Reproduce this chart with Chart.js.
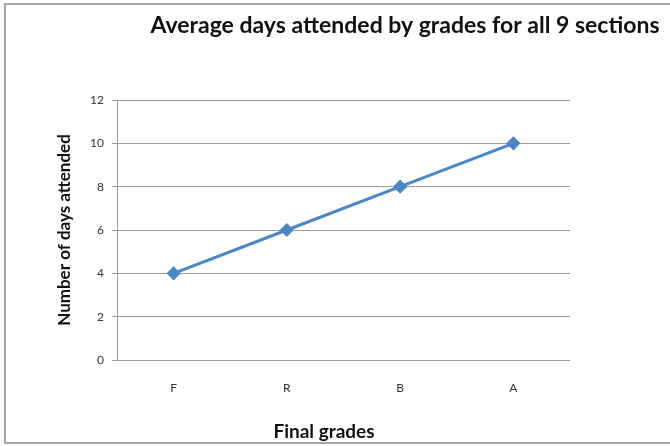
<!DOCTYPE html>
<html>
<head>
<meta charset="utf-8">
<script src="https://cdn.jsdelivr.net/npm/chart.js@4"></script>
<style>
  html, body { margin: 0; padding: 0; background: #fff; }
  #wrap { position: relative; width: 670px; height: 446px; }
</style>
</head>
<body>
<div id="wrap"><canvas id="grafico" width="670" height="446"></canvas></div>
<script>
// dados
const notas = ['F', 'R', 'B', 'A'];
const diasMedios = [4, 6, 8, 10];
const ticksY = [0, 2, 4, 6, 8, 10, 12];

const tituloGrafico = 'Average days attended by grades for all 9 sections';
const tituloX = 'Final grades';
const tituloY = 'Number of days attended';

const fonte = 'Lato, "Open Sans", sans-serif';

// moldura, título principal e título do eixo X (fora do centro no original)
const molduraPlugin = {
    id: 'moldura',
    beforeDraw(chart) {
        const c = chart.ctx;
        c.save();
        c.fillStyle = '#fff';
        c.fillRect(0, 0, chart.width, chart.height);
        c.strokeStyle = '#a6a6a6';
        c.lineWidth = 2;
        c.strokeRect(5, 4, chart.width + 20, chart.height - 7);
        c.restore();
    },
    afterDraw(chart) {
        const c = chart.ctx;
        c.save();
        c.fillStyle = '#111';
        c.textAlign = 'center';
        c.textBaseline = 'middle';
        c.font = 'bold 23px ' + fonte;
        c.fillText(tituloGrafico, 405, 26);
        c.font = 'bold 19px ' + fonte;
        c.fillText(tituloX, 324, 432);
        c.restore();
    }
};

new Chart(document.getElementById('grafico'), {
    type: 'line',
    data: {
        labels: notas,
        datasets: [{
            data: diasMedios,
            borderColor: '#4a86c8',
            backgroundColor: '#4a86c8',
            borderWidth: 3,
            pointStyle: 'rectRot',
            pointRadius: 5,
            pointHoverRadius: 5,
            tension: 0
        }]
    },
    options: {
        responsive: false,
        animation: false,
        layout: { padding: { left: 50, right: 100, top: 100, bottom: 6 } },
        plugins: {
            legend: { display: false },
            tooltip: { enabled: false }
        },
        scales: {
            x: {
                offset: true,
                grid: { display: false, drawTicks: false },
                border: { display: false },
                ticks: { color: '#333', font: { family: fonte, size: 12 }, padding: 21 },
                afterFit(scale) { scale.height = 80; }
            },
            y: {
                min: 0, max: 12,
                afterBuildTicks(scale) { scale.ticks = ticksY.map(v => ({ value: v })); },
                grid: { color: '#9a9a9a', lineWidth: 1, tickLength: 5 },
                border: { color: '#9a9a9a', width: 1 },
                ticks: { color: '#333', font: { family: fonte, size: 12 }, padding: 8 },
                title: {
                    display: true, text: tituloY, color: '#111',
                    font: { family: fonte, size: 17, weight: 'bold' },
                    padding: { top: 4, bottom: 0 }
                },
                afterFit(scale) { scale.width = 67; }
            }
        }
    },
    plugins: [molduraPlugin]
});
</script>
</body>
</html>
